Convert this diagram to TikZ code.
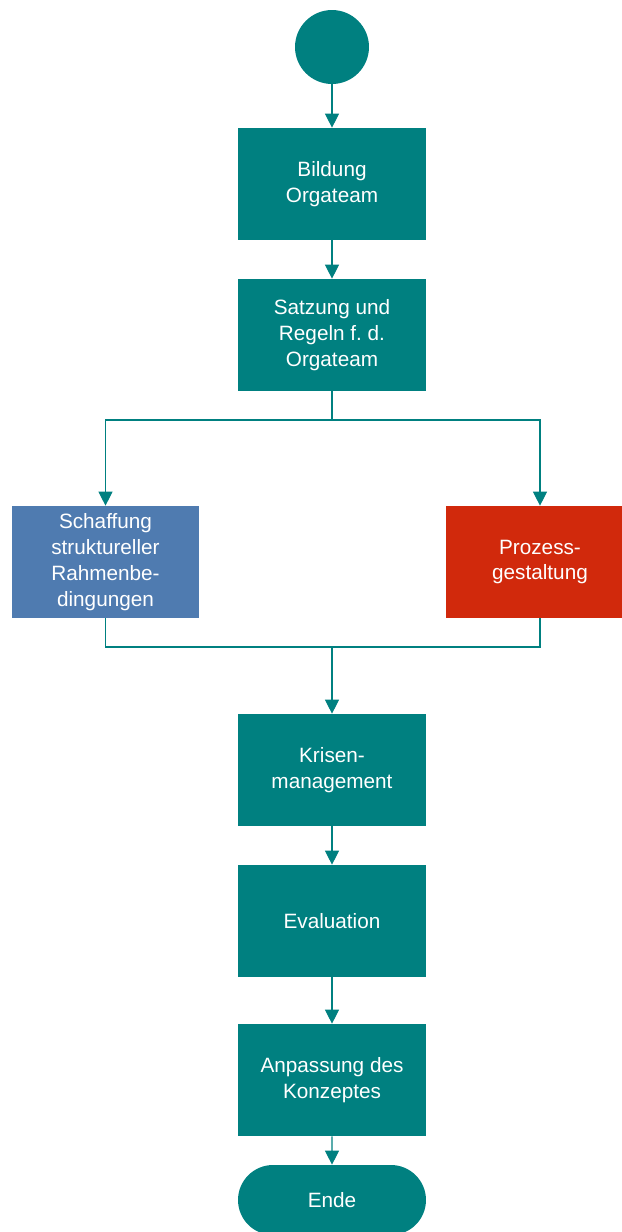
\documentclass[tikz,border=0pt]{standalone}
\usepackage{fontspec}
\setmainfont{Liberation Sans}
\usetikzlibrary{arrows.meta,shapes.misc}

\definecolor{teal1}{RGB}{0,128,128}
\definecolor{blue1}{RGB}{79,123,176}
\definecolor{red1}{RGB}{209,41,12}

\tikzset{
  stepbox/.style={draw=none, fill=teal1, text=white, align=center,
    minimum width=3.76cm, minimum height=2.24cm, inner sep=0pt,
    font=\fontsize{11.8pt}{14.7pt}\selectfont},
  flow/.style={draw=teal1, line width=0.6pt},
  arr/.style={flow, -{Triangle[width=8pt,length=8pt]}}
}

\begin{document}
\begin{tikzpicture}[x=0.02cm, y=-0.02cm]
  \useasboundingbox (0,0) rectangle (622,1232);
  % start / end
  \node[circle, fill=teal1, minimum size=1.48cm, inner sep=0pt] (start) at (332,47) {};
  \node[stepbox, rounded rectangle, minimum height=1.4cm] (ende) at (332,1200) {Ende};
  % steps
  \node[stepbox] (bildung) at (332,184) {Bildung\\Orgateam};
  \node[stepbox] (satzung) at (332,335) {Satzung und\\Regeln f.\ d.\\Orgateam};
  \node[stepbox, fill=blue1] (schaffung) at (105.5,562) {Schaffung\\struktureller\\Rahmenbe-\\dingungen};
  \node[stepbox, fill=red1] (prozess) at (540,562) {Prozess-\\gestaltung};
  \node[stepbox] (krisen) at (332,770) {Krisen-\\management};
  \node[stepbox] (eval) at (332,921) {Evaluation};
  \node[stepbox] (anpassung) at (332,1080) {Anpassung des\\Konzeptes};
  % split / merge
  \coordinate (split) at (332,420);
  \coordinate (merge) at (332,647);
  % connectors
  \draw[arr] (start) -- (bildung);
  \draw[arr] (bildung) -- (satzung);
  \draw[flow] (satzung) -- (split);
  \draw[arr] (split) -| (schaffung);
  \draw[arr] (split) -| (prozess);
  \draw[flow] (schaffung) |- (merge);
  \draw[flow] (prozess) |- (merge);
  \draw[arr] (merge) -- (krisen);
  \draw[arr] (krisen) -- (eval);
  \draw[arr] (eval) -- (anpassung);
  \draw[arr] (anpassung) -- (ende);
\end{tikzpicture}
\end{document}
